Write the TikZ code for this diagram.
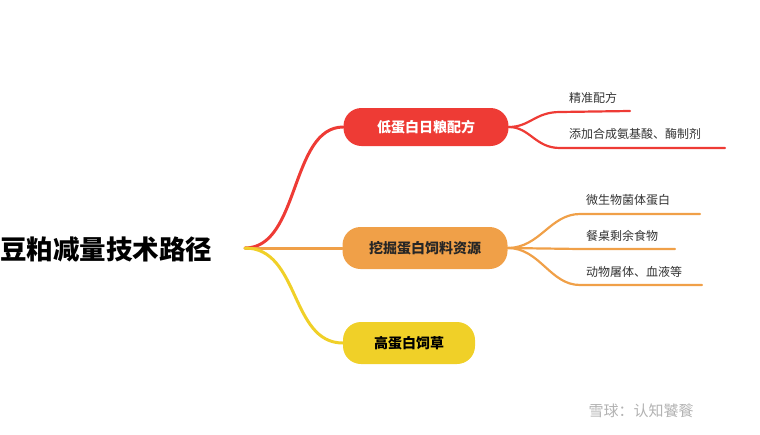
\documentclass[tikz,border=0pt]{standalone}
\usepackage{fontspec}
\newfontfamily\cjk{Noto Sans CJK SC}
\usetikzlibrary{positioning}
\definecolor{redbr}{HTML}{EE3B35}
\definecolor{orabr}{HTML}{F0A048}
\definecolor{yelbr}{HTML}{F0D028}
\tikzset{
  pill/.style={rounded corners=18pt,minimum height=38pt,minimum width=165pt,font=\cjk\bfseries\fontsize{14}{16}\selectfont,inner sep=0pt},
  leaf/.style={anchor=south west,font=\cjk\fontsize{12}{14}\selectfont,inner sep=2pt,text=black!80},
  branch/.style={line width=3pt,line cap=round}
}
\begin{document}
\begin{tikzpicture}[x=1pt,y=-1pt]
	\useasboundingbox (0,0) rectangle (760,434);
	
	% root
	\node[anchor=west,inner sep=0pt,font=\cjk\bfseries\fontsize{26.5}{28}\selectfont] (root) at (0,249) {豆粕减量技术路径};
	\coordinate (hub) at (245,248);
	
	% main branches
	\node[pill,fill=redbr,text=white] (low) at (426,127) {低蛋白日粮配方};
	\node[pill,fill=orabr,text=black!85,minimum height=42pt] (dig) at (425,248) {挖掘蛋白饲料资源};
	\node[pill,fill=yelbr,text=black,minimum width=132pt,minimum height=42pt] (grass) at (409,343) {高蛋白饲草};
	
	\draw[branch,redbr] (hub) .. controls (300,248) and (290,127) .. (low.west);
	\draw[branch,orabr] (hub) -- (dig.west);
	\draw[branch,yelbr] (hub) .. controls (300,248) and (290,343) .. (grass.west);
	
	% leaves of low
	\coordinate (l1) at (560,112);
	\coordinate (l2) at (560,148);
	\draw[branch,redbr,line width=2.2pt] (low.east) .. controls (530,127) and (535,112) .. (l1) -- (630,111);
	\draw[branch,redbr,line width=2.2pt] (low.east) .. controls (530,127) and (535,148) .. (l2) -- (725,148);
	\node[leaf] (t1) at (567,106) {精准配方};
	\node[leaf] (t2) at (567,142) {添加合成氨基酸、酶制剂};
	
	% leaves of dig
	\coordinate (d1) at (580,214);
	\coordinate (d2) at (580,249);
	\coordinate (d3) at (580,285);
	\draw[branch,orabr,line width=2.2pt] (dig.east) .. controls (540,248) and (550,214) .. (d1) -- (700,214);
	\draw[branch,orabr,line width=2.2pt] (dig.east) -- (d2) -- (675,249);
	\draw[branch,orabr,line width=2.2pt] (dig.east) .. controls (540,248) and (550,285) .. (d3) -- (702,285);
	\node[leaf] (u1) at (584,208) {微生物菌体蛋白};
	\node[leaf] (u2) at (584,244) {餐桌剩余食物};
	\node[leaf] (u3) at (584,280) {动物屠体、血液等};
	
	% watermark
	\node[anchor=west,text=black!30,font=\cjk\fontsize{15}{17}\selectfont] (wm) at (585,411) {雪球：认知饕餮};
\end{tikzpicture}
\end{document}
